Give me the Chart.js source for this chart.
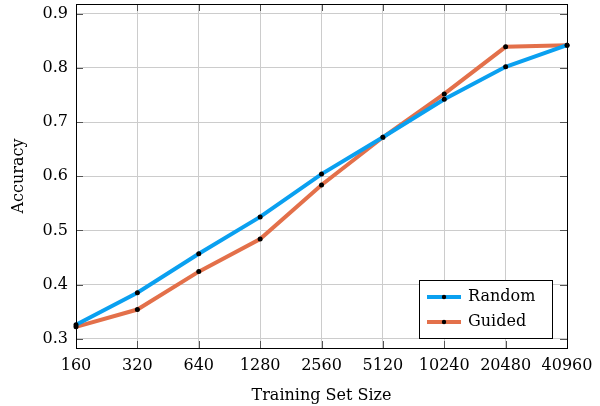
<!DOCTYPE html>
<html>
<head>
<meta charset="utf-8">
<script src="https://cdn.jsdelivr.net/npm/chart.js@4/dist/chart.umd.min.js"></script>
<style>
  html, body { margin: 0; padding: 0; background: #fff; }
  #wrap { width: 600px; height: 406px; position: relative; }
</style>
</head>
<body>
<div id="wrap"><canvas id="chart" width="600" height="406"></canvas></div>
<script>
const sizes = ['160', '320', '640', '1280', '2560', '5120', '10240', '20480', '40960'];
const randomAcc = [0.326, 0.385, 0.457, 0.525, 0.604, 0.672, 0.742, 0.802, 0.842];
const guidedAcc = [0.322, 0.354, 0.424, 0.484, 0.584, 0.672, 0.752, 0.839, 0.842];
const yTicks = [0.3, 0.4, 0.5, 0.6, 0.7, 0.8, 0.9];

const FONT = "'DejaVu Serif', 'Liberation Serif', serif";
const FS = 16;
const BLUE = '#0aa0f0';
const ORANGE = '#e3704a';

Chart.defaults.font.family = FONT;
Chart.defaults.color = '#000';

// frame, inward ticks and the boxed legend
const framePlugin = {
  id: 'frame',
  afterDraw(chart) {
    const { ctx, chartArea: a, scales } = chart;
    ctx.save();
    ctx.strokeStyle = '#555';
    ctx.lineWidth = 1;
    ctx.beginPath();
    scales.y.ticks.forEach(t => {
      const y = Math.round(scales.y.getPixelForValue(t.value)) + 0.5;
      ctx.moveTo(a.left, y); ctx.lineTo(a.left + 7, y);
      ctx.moveTo(a.right, y); ctx.lineTo(a.right - 7, y);
    });
    sizes.forEach((s, i) => {
      const x = Math.round(scales.x.getPixelForValue(i)) + 0.5;
      ctx.moveTo(x, a.top); ctx.lineTo(x, a.top + 7);
      ctx.moveTo(x, a.bottom); ctx.lineTo(x, a.bottom - 7);
    });
    ctx.stroke();

    ctx.strokeStyle = '#000';
    ctx.strokeRect(Math.round(a.left) + 0.5, Math.round(a.top) + 0.5,
      Math.round(a.right - a.left), Math.round(a.bottom - a.top));

    // legend box
    const bx = a.right - 148, by = a.bottom - 68, bw = 133, bh = 58;
    ctx.fillStyle = '#fff';
    ctx.fillRect(bx, by, bw, bh);
    ctx.strokeRect(bx + 0.5, by + 0.5, bw, bh);
    const items = [['Random', BLUE], ['Guided', ORANGE]];
    items.forEach((it, i) => {
      const y = by + 17 + i * 25;
      ctx.strokeStyle = it[1];
      ctx.lineWidth = 4;
      ctx.beginPath();
      ctx.moveTo(bx + 8, y); ctx.lineTo(bx + 42, y);
      ctx.stroke();
      ctx.fillStyle = '#000';
      ctx.beginPath();
      ctx.arc(bx + 25, y, 2.2, 0, Math.PI * 2);
      ctx.fill();
      ctx.font = FS + 'px ' + FONT;
      ctx.textBaseline = 'middle';
      ctx.fillText(it[0], bx + 49, y);
    });
    ctx.restore();
  }
};

new Chart(document.getElementById('chart'), {
  type: 'line',
  data: {
    labels: sizes,
    datasets: [
      {
        label: 'Random',
        data: randomAcc,
        borderColor: BLUE,
        borderWidth: 4,
        pointRadius: 2.5,
        pointBackgroundColor: '#000',
        pointBorderWidth: 0,
        tension: 0
      },
      {
        label: 'Guided',
        data: guidedAcc,
        borderColor: ORANGE,
        borderWidth: 4,
        pointRadius: 2.5,
        pointBackgroundColor: '#000',
        pointBorderWidth: 0,
        tension: 0
      }
    ]
  },
  options: {
    responsive: false,
    animation: false,
    layout: { padding: { top: 4, right: 33, left: 0, bottom: 0 } },
    plugins: {
      legend: { display: false },
      tooltip: { enabled: false }
    },
    scales: {
      x: {
        offset: false,
        grid: { color: '#cccccc', drawTicks: false },
        border: { display: false },
        ticks: { font: { size: FS }, padding: 8, maxRotation: 0, autoSkip: false },
        title: { display: true, text: 'Training Set Size', font: { size: FS }, padding: { top: 4, bottom: 1 } },
        afterFit(axis) {
          axis.height = 58;
          axis.paddingLeft = 0; axis.paddingRight = 0;
        }
      },
      y: {
        min: 0.283,
        max: 0.918,
        grid: { color: '#cccccc', drawTicks: false },
        border: { display: false },
        afterBuildTicks(axis) { axis.ticks = yTicks.map(v => ({ value: v })); },
        ticks: { font: { size: FS }, padding: 8, callback: v => v.toFixed(1) },
        title: { display: true, text: 'Accuracy', font: { size: FS }, padding: { top: 9, bottom: 0 } },
        afterFit(axis) {
          axis.width = 76;
          axis.paddingTop = 0; axis.paddingBottom = 0;
        }
      }
    }
  },
  plugins: [framePlugin]
});
</script>
</body>
</html>
